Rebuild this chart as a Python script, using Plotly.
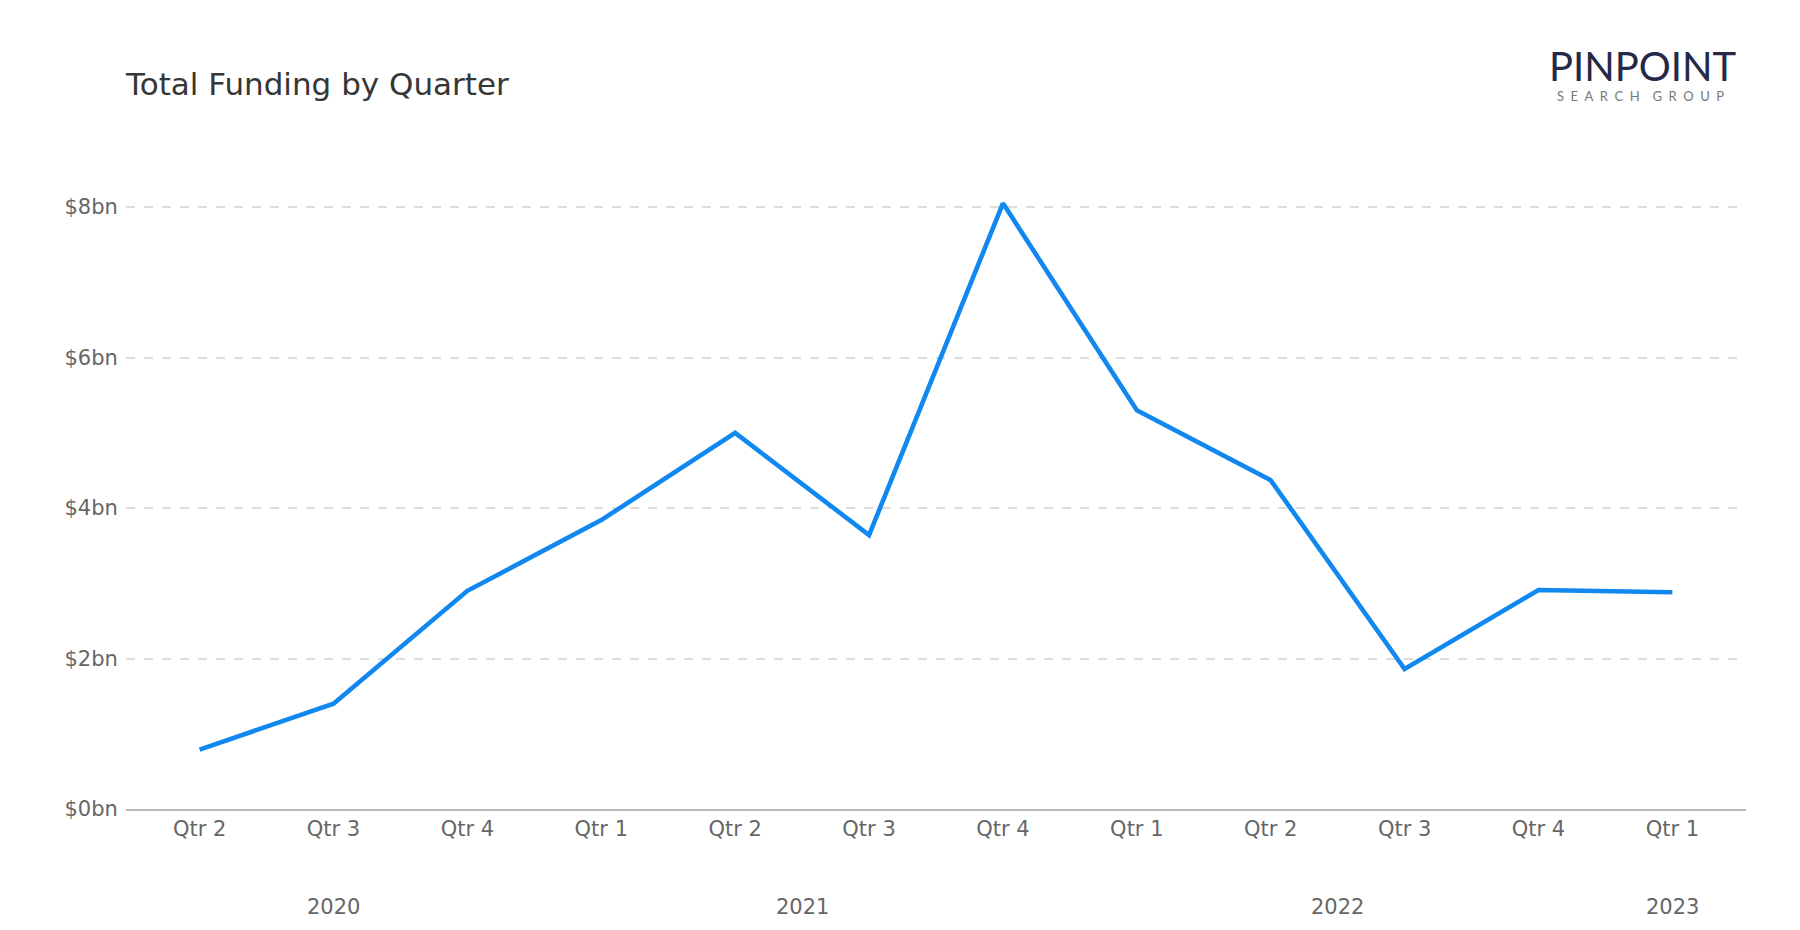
import plotly.graph_objects as go

quarters = ["Qtr 2", "Qtr 3", "Qtr 4", "Qtr 1", "Qtr 2", "Qtr 3", "Qtr 4",
            "Qtr 1", "Qtr 2", "Qtr 3", "Qtr 4", "Qtr 1"]
years = ["2020", "2020", "2020", "2021", "2021", "2021", "2021",
         "2022", "2022", "2022", "2022", "2023"]
funding_bn = [0.79, 1.40, 2.90, 3.84, 5.00, 3.64, 8.05, 5.30, 4.37, 1.86, 2.91, 2.88]
y_ticks = [0, 2, 4, 6, 8]
y_tick_labels = ["$0bn", "$2bn", "$4bn", "$6bn", "$8bn"]

idx = list(range(len(quarters)))

# plot area in pixels (for placing logo / title relative to the page)
W, H = 1800, 930
L, R, T, B = 126, 54, 177, 121
PW, PH = W - L - R, H - T - B


def px_to_paper(px, py):
    return (px - L) / PW, (H - B - py) / PH


fig = go.Figure()
fig.add_trace(go.Scatter(
    x=idx, y=funding_bn, mode="lines",
    line=dict(color="#1187F0", width=4.6),
    hoverinfo="skip", showlegend=False,
))

# year group labels centered under their quarters
seen = []
for y in years:
    if y not in seen:
        seen.append(y)
for y in seen:
    pos = [i for i, yy in enumerate(years) if yy == y]
    fig.add_annotation(
        x=sum(pos) / len(pos), y=-0.155, xref="x", yref="paper",
        text=y, showarrow=False, yanchor="middle",
        font=dict(family="DejaVu Sans", size=21, color="#666666"),
    )

# logo
lx, ly = px_to_paper(1643, 66)
fig.add_annotation(
    x=lx, y=ly, xref="paper", yref="paper",
    text="PINPOINT", showarrow=False, xanchor="center", yanchor="middle",
    font=dict(family="Lato", size=40, color="#262848"),
)
sx, sy = px_to_paper(1640, 96)
sp = "\u2002"
fig.add_annotation(
    x=sx, y=sy, xref="paper", yref="paper",
    text=sp.join("SEARCH") + sp * 2 + sp.join("GROUP"),
    showarrow=False, xanchor="center", yanchor="middle",
    font=dict(family="Lato", size=13, color="#777777"),
)

fig.update_layout(
    width=W, height=H,
    paper_bgcolor="white", plot_bgcolor="white",
    margin=dict(l=L, r=R, t=T, b=B),
    title=dict(
        text="Total Funding by Quarter",
        x=126 / W, xref="container", xanchor="left",
        y=1 - 84 / H, yref="container", yanchor="middle",
        font=dict(family="DejaVu Sans", size=31, color="#363636"),
    ),
    font=dict(family="DejaVu Sans", color="#666666"),
)

fig.update_xaxes(
    range=[-0.55, 11.55],
    tickmode="array", tickvals=idx, ticktext=quarters,
    showgrid=False, zeroline=False,
    showline=True, linecolor="#BBBBBB", linewidth=1.5,
    ticks="", tickfont=dict(family="DejaVu Sans", size=21, color="#666666"),
)
fig.update_yaxes(
    range=[0, 8.4],
    tickmode="array", tickvals=y_ticks, ticktext=y_tick_labels,
    showgrid=True, gridcolor="#DDDDDD", griddash="dash", gridwidth=1.5,
    zeroline=False, showline=False,
    ticks="outside", ticklen=3, tickcolor="rgba(0,0,0,0)",
    tickfont=dict(family="DejaVu Sans", size=21, color="#666666"),
)

fig.write_html("out.html")
